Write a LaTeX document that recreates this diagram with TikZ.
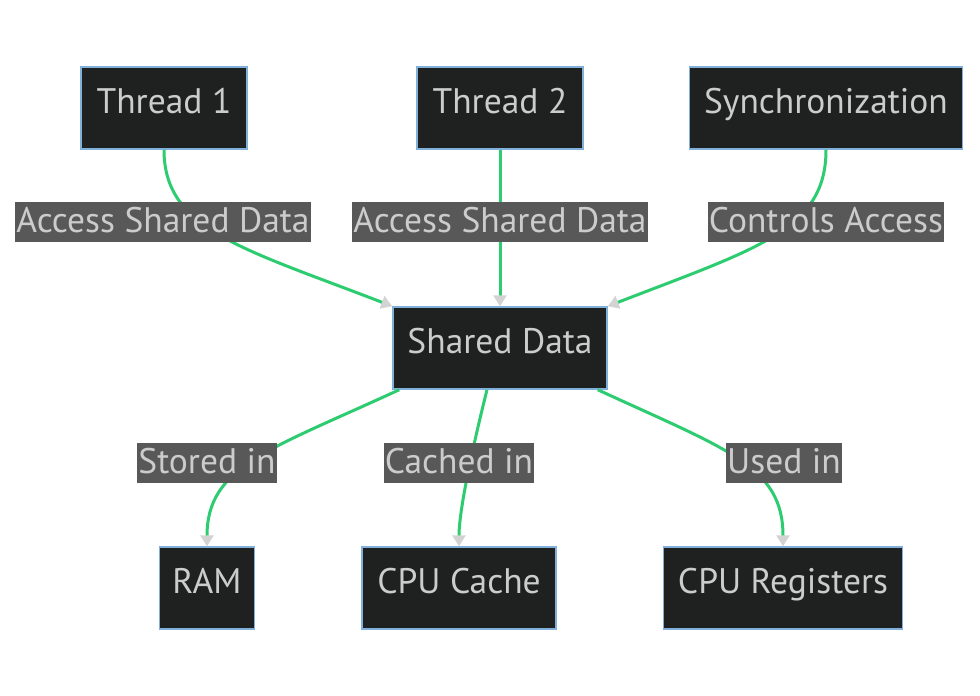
\documentclass[tikz,border=0pt]{standalone}
\usepackage{fontspec}
\setmainfont{PT Sans}
\usetikzlibrary{arrows.meta}
\definecolor{boxfill}{HTML}{1F2020}
\definecolor{boxline}{HTML}{81B1DB}
\definecolor{boxtext}{HTML}{CCCCCC}
\definecolor{tagfill}{HTML}{585858}
\definecolor{flowgreen}{HTML}{2ECC71}
\definecolor{tipgrey}{HTML}{D3D3D3}
\begin{document}
\begin{tikzpicture}[x=1pt,y=-1pt,
  box/.style={draw=boxline,line width=1.5pt,fill=boxfill,text=boxtext,
    minimum height=82pt,inner sep=0pt,text height=25pt,text depth=15pt,
    font=\fontsize{35.5}{42}\selectfont},
  tag/.style={fill=tagfill,text=boxtext,minimum height=40pt,inner xsep=1pt,
    inner ysep=0pt,text height=30pt,text depth=10pt,
    font=\fontsize{35.5}{42}\selectfont},
  flow/.style={draw=flowgreen,line width=3pt,
    -{Triangle[color=tipgrey,length=11pt,width=13pt]}}]
\useasboundingbox[fill=white] (0,0) rectangle (980,696);
% top row
\node[box,minimum width=166pt] (t1) at (164,108) {Thread 1};
\node[box,minimum width=166pt] (t2) at (500,108) {Thread 2};
\node[box,minimum width=273pt] (sync) at (826,108) {Synchronization};
\node[box,minimum width=214pt] (shared) at (500,348) {Shared Data};
% bottom row
\node[box,minimum width=95pt] (ram) at (207,588) {RAM};
\node[box,minimum width=194pt] (cache) at (459,588) {CPU Cache};
\node[box,minimum width=239pt] (regs) at (783,588) {CPU Registers};
\draw[flow] (t1.south) .. controls +(0,80) and +(-150,-58) .. (shared.north west);
\draw[flow] (t2) -- (shared);
\draw[flow] (sync.south) .. controls +(0,80) and +(150,-58) .. (shared.north east);
\draw[flow] ([xshift=7pt]shared.south west) .. controls +(-130,60) and +(0,-80) .. (ram.north);
\draw[flow] ([xshift=-13pt]shared.south) .. controls +(-10,40) and +(0,-40) .. (cache.north);
\draw[flow] ([xshift=-10pt]shared.south east) .. controls +(130,60) and +(0,-80) .. (regs.north);
\node[tag] (a1) at (163,222) {Access Shared Data};
\node[tag] (a2) at (500,222) {Access Shared Data};
\node[tag] (a3) at (826,222) {Controls Access};
\node[tag] (s1) at (207,463) {Stored in};
\node[tag] (c1) at (459,463) {Cached in};
\node[tag] (u1) at (784,463) {Used in};
\end{tikzpicture}
\end{document}
